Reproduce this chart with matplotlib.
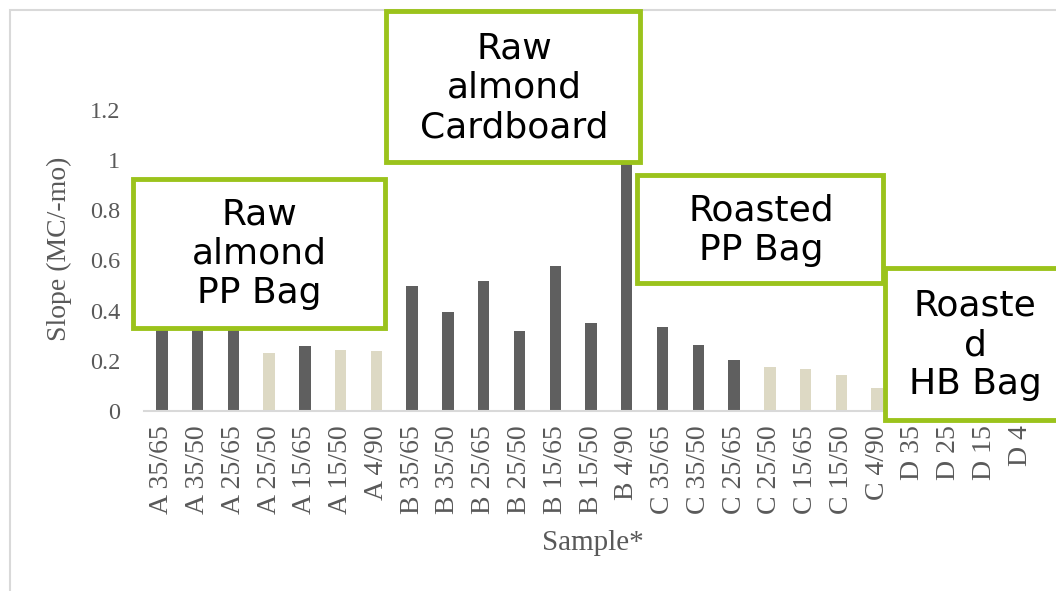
import matplotlib.pyplot as plt
from matplotlib.patches import Rectangle
from matplotlib.ticker import FuncFormatter

# sample labels and slope values (MC/-mo)
samples = ['A 35/65', 'A 35/50', 'A 25/65', 'A 25/50', 'A 15/65', 'A 15/50', 'A 4/90',
           'B 35/65', 'B 35/50', 'B 25/65', 'B 25/50', 'B 15/65', 'B 15/50', 'B 4/90',
           'C 35/65', 'C 35/50', 'C 25/65', 'C 25/50', 'C 15/65', 'C 15/50', 'C 4/90',
           'D 35', 'D 25', 'D 15', 'D 4']
slopes = [0.45, 0.44, 0.42, 0.23, 0.26, 0.245, 0.24,
          0.50, 0.395, 0.52, 0.32, 0.58, 0.35, 1.05,
          0.335, 0.263, 0.203, 0.175, 0.167, 0.143, 0.09,
          0, 0, 0, 0]
# True = dark bar, False = light bar
dark = [True, True, True, False, True, False, False,
        True, True, True, True, True, True, True,
        True, True, True, False, False, False, False,
        True, True, True, True]

box_texts = ['Raw\nalmond\nPP Bag', 'Raw\nalmond\nCardboard', 'Roasted\nPP Bag', 'Roaste\nd\nHB Bag']

W, H = 1056, 591
fig = plt.figure(figsize=(W / 100, H / 100), dpi=100)
fig.patch.set_facecolor('white')


def px(x0, y0, x1, y1):
    # pixel box (top-left origin) -> figure fraction rect
    return [x0 / W, 1 - y1 / H, (x1 - x0) / W, (y1 - y0) / H]


ax = fig.add_axes(px(144, 110, 1038, 411))
colors = ['#5f5f5f' if d else '#ddd9c4' for d in dark]
ax.bar(range(len(samples)), slopes, width=0.32, color=colors, zorder=2)
ax.set_xlim(-0.5, len(samples) - 0.5)
ax.set_ylim(0, 1.2)
ax.set_yticks([0, 0.2, 0.4, 0.6, 0.8, 1.0, 1.2])
ax.yaxis.set_major_formatter(FuncFormatter(lambda v, p: f'{v:g}'))
ax.set_xticks(range(len(samples)))
ax.set_xticklabels(samples, rotation=90)

for s in ['top', 'right', 'left']:
    ax.spines[s].set_visible(False)
ax.spines['bottom'].set_color('#d9d9d9')
ax.spines['bottom'].set_linewidth(1.5)
ax.tick_params(length=0)
ax.tick_params(axis='y', pad=17)
ax.tick_params(axis='x', pad=10)
for lbl in ax.get_yticklabels():
    lbl.set_fontfamily('Liberation Serif')
    lbl.set_fontsize(17.5)
    lbl.set_color('#595959')
for lbl in ax.get_xticklabels():
    lbl.set_fontfamily('Liberation Serif')
    lbl.set_fontsize(20)
    lbl.set_color('#595959')

ax.set_ylabel('Slope (MC/-mo)', family='Liberation Serif', fontsize=20, color='#595959')
ax.yaxis.set_label_coords(-0.08, 0.54)
fig.text(593 / W, 1 - 543 / H, 'Sample*', family='Liberation Serif', fontsize=21,
         color='#595959', ha='center', va='center')

# outer chart border
fig.patches.append(Rectangle((10 / W, -0.1), 1.2, 1 - 10 / H + 0.1, transform=fig.transFigure,
                             fill=False, edgecolor='#d9d9d9', linewidth=1.5))

# green overlay boxes
green = '#9bc31c'
boxes = [(133, 179, 385, 328), (386, 11, 640, 162), (637, 175, 883, 283), (885, 268, 1070, 420)]
centers = [(259, 254), (514, 88), (761, 230), (975, 345)]
for (x0, y0, x1, y1), (cx, cy), t in zip(boxes, centers, box_texts):
    r = px(x0, y0, x1, y1)
    fig.patches.append(Rectangle((r[0], r[1]), r[2], r[3], transform=fig.transFigure,
                                 facecolor='white', edgecolor=green, linewidth=3.5, zorder=5))
    fig.text(cx / W, 1 - cy / H, t, ha='center', va='center', fontsize=26,
             family='DejaVu Sans', color='black', linespacing=1.19, zorder=6)

plt.savefig('out.png', dpi=100)
